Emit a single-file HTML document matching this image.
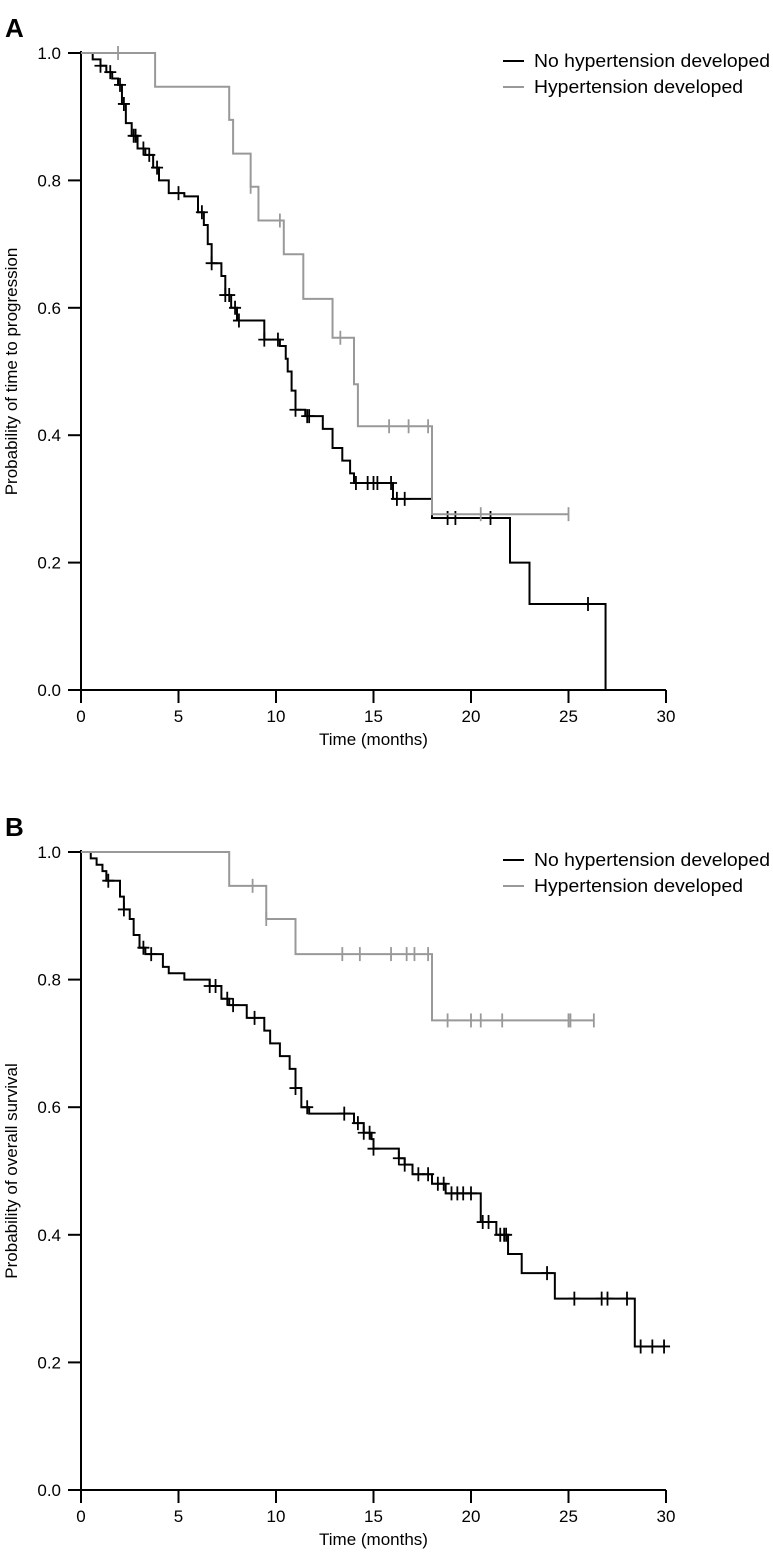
<!DOCTYPE html>
<html><head><meta charset="utf-8"><style>
body{margin:0;background:#fff}
svg text{font-family:"Liberation Sans",Arial,sans-serif}
</style></head><body>
<svg id="c" width="773" height="1554" xmlns="http://www.w3.org/2000/svg"></svg>
<script>
// Panel A: time to progression
const aNoT=[0.6,1.0,1.3,1.6,1.9,2.1,2.3,2.6,2.9,3.3,3.7,4.0,4.5,5.3,6.0,6.3,6.5,6.7,7.2,7.4,7.7,8.0,9.4,10.2,10.5,10.6,10.8,11.0,11.5,12.4,12.9,13.4,13.8,14.0,16.0,18.0,22.0,23.0,26.9];
const aNoS=[0.99,0.98,0.97,0.96,0.95,0.92,0.89,0.87,0.85,0.84,0.82,0.80,0.78,0.775,0.75,0.73,0.70,0.67,0.65,0.62,0.60,0.58,0.55,0.54,0.52,0.50,0.47,0.44,0.43,0.41,0.38,0.36,0.34,0.325,0.30,0.27,0.20,0.135,0.0];
const aNoCens=[1.0,1.5,2.0,2.2,2.7,2.8,3.2,3.5,3.9,5.0,6.2,6.7,7.4,7.6,7.9,8.1,9.4,10.1,11.0,11.6,11.7,14.1,14.7,15.0,15.2,15.9,16.2,16.6,18.8,19.2,21.0,26.0];
const aNoEnd=26.9;
const aHtT=[3.8,7.6,7.8,8.7,9.1,10.4,11.4,12.9,14.0,14.2,18.0];
const aHtS=[0.947,0.895,0.842,0.79,0.737,0.684,0.614,0.553,0.48,0.414,0.276];
const aHtCens=[1.9,8.7,10.2,13.3,15.8,16.8,17.8,20.5,25.0];
const aHtEnd=25.0;
// Panel B: overall survival
const bNoT=[0.5,0.8,1.1,1.3,2.0,2.2,2.5,2.7,3.0,3.3,4.2,4.5,5.3,6.6,7.2,7.6,8.5,9.4,9.7,10.2,10.7,11.0,11.3,11.7,14.0,14.5,14.9,15.0,16.3,16.6,17.0,18.0,18.7,20.5,21.3,21.9,22.6,24.3,28.4];
const bNoS=[0.99,0.98,0.97,0.955,0.93,0.91,0.895,0.87,0.85,0.84,0.82,0.81,0.80,0.79,0.77,0.76,0.74,0.72,0.70,0.68,0.66,0.63,0.60,0.59,0.575,0.56,0.55,0.535,0.52,0.51,0.495,0.48,0.465,0.42,0.40,0.37,0.34,0.30,0.225];
const bNoCens=[1.4,2.2,3.2,3.6,6.6,6.9,7.5,7.8,8.9,11.0,11.6,13.5,14.2,14.5,14.8,15.0,16.3,16.6,17.3,17.8,18.3,18.6,19.0,19.3,19.6,20.0,20.6,20.9,21.5,21.7,21.8,23.9,25.3,26.7,27.0,28.0,28.7,29.3,29.9];
const bNoEnd=29.9;
const bHtT=[7.6,9.5,11.0,18.0];
const bHtS=[0.947,0.895,0.84,0.736];
const bHtCens=[8.8,9.5,13.4,14.3,15.9,16.7,17.1,17.8,18.8,20.0,20.5,21.6,25.0,25.1,26.3];
const bHtEnd=26.3;
const xTicks=[0,5,10,15,20,25,30];
const yTicks=[0.0,0.2,0.4,0.6,0.8,1.0];
const legendLabels=["No hypertension developed","Hypertension developed"];

const NS="http://www.w3.org/2000/svg";
const svg=document.getElementById('c');
function mk(t,a,p){const e=document.createElementNS(NS,t);for(const k in a)e.setAttribute(k,a[k]);(p||svg).appendChild(e);return e;}
function stepAt(T,S,t){let s=1;for(let i=0;i<T.length;i++){if(T[i]<=t)s=S[i];}return s;}
const legendW=[236,209];

function panel(letter,top,bottom,yTitle,series){
  const g=mk('g',{});
  
  
  const x0=81,x1=666;
  const X=t=>x0+(x1-x0)*t/30;
  const Y=s=>bottom-(bottom-top)*s;
  const L=mk('text',{x:5,y:top-16,'font-size':26,'font-weight':'bold'},g);L.textContent=letter;
  
  
  const ax=mk('path',{d:`M${x0},${top-2}V${bottom}H${x1}`,stroke:'#000','stroke-width':2,fill:'none'},g);
  
  
  for(const v of yTicks){
    mk('line',{x1:x0-13,x2:x0,y1:Y(v),y2:Y(v),stroke:'#000','stroke-width':2},g);
    const t=mk('text',{x:x0-20,y:Y(v)+6,'font-size':17,'text-anchor':'end'},g);t.textContent=v.toFixed(1);
    
    
  }
  for(const v of xTicks){
    mk('line',{x1:X(v),x2:X(v),y1:bottom,y2:bottom+13,stroke:'#000','stroke-width':2},g);
    const t=mk('text',{x:X(v),y:bottom+32,'font-size':17,'text-anchor':'middle'},g);t.textContent=v;
    
    
  }
  const xt=mk('text',{x:(x0+x1)/2,y:bottom+55,'font-size':17,'text-anchor':'middle'},g);xt.textContent='Time (months)';
  
  
  const cy=(top+bottom)/2;
  const yt=mk('text',{x:17,y:cy,'font-size':17,'text-anchor':'middle',transform:`rotate(-90 17 ${cy})`},g);yt.textContent=yTitle;
  
  
  series.forEach((s,i)=>{
    let d=`M${X(0)},${Y(1)}`;
    for(let k=0;k<s.T.length;k++){d+=`H${X(s.T[k])}V${Y(s.S[k])}`;}
    d+=`H${X(s.end)}`;
    const p=mk('path',{d:d,stroke:s.c,'stroke-width':2,fill:'none'},g);
    
    
    for(const t of s.cens){
      const yy=Y(stepAt(s.T,s.S,t));
      const c=mk('path',{d:`M${X(t)},${yy-7}V${yy+7}`+(s.h?`M${X(t)-6},${yy}H${X(t)+6}`:''),stroke:s.c,'stroke-width':1.8},g);
      
      
    }
    const ly=top+8+i*26;
    mk('line',{x1:503,x2:524,y1:ly,y2:ly,stroke:s.c,'stroke-width':2},g);
    const lt=mk('text',{x:534,y:ly+6,'font-size':18,textLength:legendW[i],lengthAdjust:'spacingAndGlyphs'},g);lt.textContent=legendLabels[i];
    
    
  });
}
panel('A',53,690,'Probability of time to progression',[
  {T:aNoT,S:aNoS,cens:aNoCens,end:aNoEnd,c:'#000',name:'no-hypertension',h:true},
  {T:aHtT,S:aHtS,cens:aHtCens,end:aHtEnd,c:'#999',name:'hypertension',h:false}]);
panel('B',852,1490,'Probability of overall survival',[
  {T:bNoT,S:bNoS,cens:bNoCens,end:bNoEnd,c:'#000',name:'no-hypertension',h:true},
  {T:bHtT,S:bHtS,cens:bHtCens,end:bHtEnd,c:'#999',name:'hypertension',h:false}]);
</script>
</body></html>
